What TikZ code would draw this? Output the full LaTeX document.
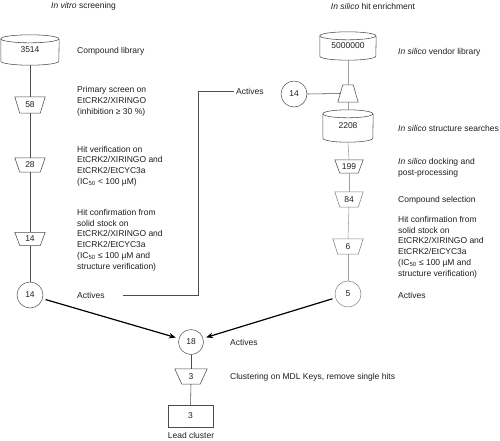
\documentclass[tikz,border=0pt]{standalone}
\usepackage{fontspec}
\setmainfont{Liberation Sans}
\usetikzlibrary{arrows.meta,calc}
\definecolor{txt}{gray}{0.12}
\definecolor{dk}{gray}{0.3}
\definecolor{md}{gray}{0.5}
\definecolor{lt}{gray}{0.62}
\begin{document}
\begin{tikzpicture}[x=1pt,y=-1pt,
  every node/.style={font=\fontsize{8.5}{10.8}\selectfont, text=txt},
  lbl/.style={anchor=west, align=left, inner sep=2pt},
  box/.style={rectangle, inner sep=0pt},
  circ/.style={circle, draw=dk, line width=0.5pt, minimum size=26pt, inner sep=0pt},
  shp/.style={draw=dk, line width=0.55pt},
  shpm/.style={draw=md, line width=0.55pt},
  lnk/.style={draw=dk, line width=0.55pt},
  lnkl/.style={draw=lt, line width=0.55pt},
  bigarrow/.style={line width=1.2pt, black, -{Stealth[length=7pt,width=5.5pt]}, shorten <=3pt, shorten >=3pt}]

\fill[white] (0,0) rectangle (500,440);
\useasboundingbox (0,0) rectangle (500,440);

% titles
\node (h1) at (83.5,6) {\textit{In vitro} screening};
\node (h2) at (373,6) {\textit{In silico} hit enrichment};

% ---------------- left column
\node[box, minimum width=58pt, minimum height=30pt] (c1) at (30,50) {\raisebox{-3pt}{3514}};
\draw[shp] ([yshift=-4pt]c1.north west) arc[start angle=180,end angle=-180,x radius=29pt,y radius=4pt];
\draw[shp] ([yshift=-4pt]c1.north west) -- ([yshift=4pt]c1.south west) arc[start angle=180,end angle=360,x radius=29pt,y radius=4pt] -- ([yshift=-4pt]c1.north east);
\node[lbl] (l1) at (75,51) {Compound library};

\node[box, minimum width=30pt, minimum height=16pt] (t1) at (30,105) {58};
\draw[shp] (t1.north west) -- (t1.north east) -- ([xshift=-5pt]t1.south east) -- ([xshift=5pt]t1.south west) -- cycle;
\node[lbl] (l2) at (75,101) {Primary screen on\\EtCRK2/XIRINGO\\(inhibition ≥ 30 \%)};

\node[box, minimum width=30pt, minimum height=14pt] (t2) at (30,165) {28};
\draw[shp] (t2.north west) -- (t2.north east) -- ([xshift=-5pt]t2.south east) -- ([xshift=5pt]t2.south west) -- cycle;
\node[lbl] (l3) at (75,166) {Hit verification on\\EtCRK2/XIRINGO and\\EtCRK2/EtCYC3a\\(IC\textsubscript{50} < 100 µM)};

\node[box, minimum width=30pt, minimum height=13pt] (t3) at (30,239) {14};
\draw[shp] (t3.north west) -- (t3.north east) -- ([xshift=-5pt]t3.south east) -- ([xshift=5pt]t3.south west) -- cycle;
\node[lbl] (l4) at (75,240) {Hit confirmation from\\solid stock on\\EtCRK2/XIRINGO and\\EtCRK2/EtCYC3a\\(IC\textsubscript{50} ≤ 100 µM and\\structure verification)};

\node[circ] (cL) at (30,295) {14};
\node[lbl] (aL) at (75,295) {Actives};

\draw[lnk] (c1.south) -- (t1.north);
\draw[lnk] (t1.south) -- (t2.north);
\draw[lnk] (t2.south) -- (t3.north);
\draw[lnk] (t3.south) -- (cL.north);

% ---------------- right column
\node[box, minimum width=56pt, minimum height=28pt] (c2) at (348,46) {\raisebox{-3pt}{5000000}};
\draw[shp] ([yshift=-4pt]c2.north west) arc[start angle=180,end angle=-180,x radius=28pt,y radius=4pt];
\draw[shp] ([yshift=-4pt]c2.north west) -- ([yshift=4pt]c2.south west) arc[start angle=180,end angle=360,x radius=28pt,y radius=4pt] -- ([yshift=-4pt]c2.north east);
\node[lbl] (r1) at (396,52) {\textit{In silico} vendor library};

\node[box, minimum width=20pt, minimum height=17pt] (sm) at (348,93.5) {};
\draw[shp] (sm.south west) -- (sm.south east) -- ([xshift=-5pt]sm.north east) -- ([xshift=5pt]sm.north west) -- cycle;
\node[circ] (a14) at (294,94) {14};
\node[lbl] (aT) at (234,91) {Actives};

\node[box, minimum width=50pt, minimum height=32pt] (c3) at (348,126) {\raisebox{-3pt}{2208}};
\draw[shp] ([yshift=-4pt]c3.north west) arc[start angle=180,end angle=-180,x radius=25pt,y radius=4pt];
\draw[shp] ([yshift=-4pt]c3.north west) -- ([yshift=4pt]c3.south west) arc[start angle=180,end angle=360,x radius=25pt,y radius=4pt] -- ([yshift=-4pt]c3.north east);
\node[lbl] (r2) at (396,128) {\textit{In silico} structure searches};

\node[box, minimum width=28pt, minimum height=13pt] (t5) at (349,166.5) {199};
\draw[shp] (t5.north west) -- (t5.north east) -- ([xshift=-5pt]t5.south east) -- ([xshift=5pt]t5.south west) -- cycle;
\node[lbl] (r3) at (396,168) {\textit{In silico} docking and\\post-processing};

\node[box, minimum width=28pt, minimum height=15pt] (t6) at (349,199.5) {84};
\draw[shpm] (t6.north west) -- (t6.north east) -- ([xshift=-5pt]t6.south east) -- ([xshift=5pt]t6.south west) -- cycle;
\node[lbl] (r4) at (396,200) {Compound selection};

\node[box, minimum width=30pt, minimum height=15pt] (t7) at (348,246.5) {6};
\draw[shpm] (t7.north west) -- (t7.north east) -- ([xshift=-5pt]t7.south east) -- ([xshift=5pt]t7.south west) -- cycle;
\node[lbl] (r5) at (396,247) {Hit confirmation from\\solid stock on\\EtCRK2/XIRINGO and\\EtCRK2/EtCYC3a\\(IC\textsubscript{50} ≤ 100 µM and\\structure verification)};

\node[circ, draw=md] (cR) at (348,294) {5};
\node[lbl] (aR) at (396,295) {Actives};

\draw[lnkl] (c2.south) -- (sm.north);
\draw[lnkl] (sm.south) -- (c3.north);
\draw[lnkl] (c3.south) -- (t5.north);
\draw[lnkl] (t5.south) -- (t6.north);
\draw[lnkl] (t6.south) -- (t7.north);
\draw[lnkl] (t7.south) -- (cR.north);

% link between columns
\draw[lnk] (a14.east) -- ([xshift=2.5pt]sm.west);
\coordinate (kk) at (198,0);
\draw[lnk, shorten <=16pt] (aL.east) -| (kk |- aT.west) -- (aT.west);

% ---------------- bottom
\node[circ, minimum size=25pt] (c18) at (191,342) {18};
\node[lbl] (a18) at (228,342) {Actives};

\node[box, minimum width=32pt, minimum height=15pt] (t8) at (191,376.5) {3};
\draw[shp] (t8.north west) -- (t8.north east) -- ([xshift=-7pt]t8.south east) -- ([xshift=7pt]t8.south west) -- cycle;
\node[lbl] (b1) at (228,377) {Clustering on MDL Keys, remove single hits};

\node[box, draw=dk, line width=0.55pt, minimum width=45pt, minimum height=22pt] (lead) at (190.5,416) {3};
\node (leadl) at (191,435) {Lead cluster};

\draw[lnk] (c18.south) -- (t8.north);
\draw[lnk] (t8.south) -- (lead.north);

\draw[bigarrow] (cL) -- (c18);
\draw[bigarrow] (cR) -- (c18);
\end{tikzpicture}
\end{document}
